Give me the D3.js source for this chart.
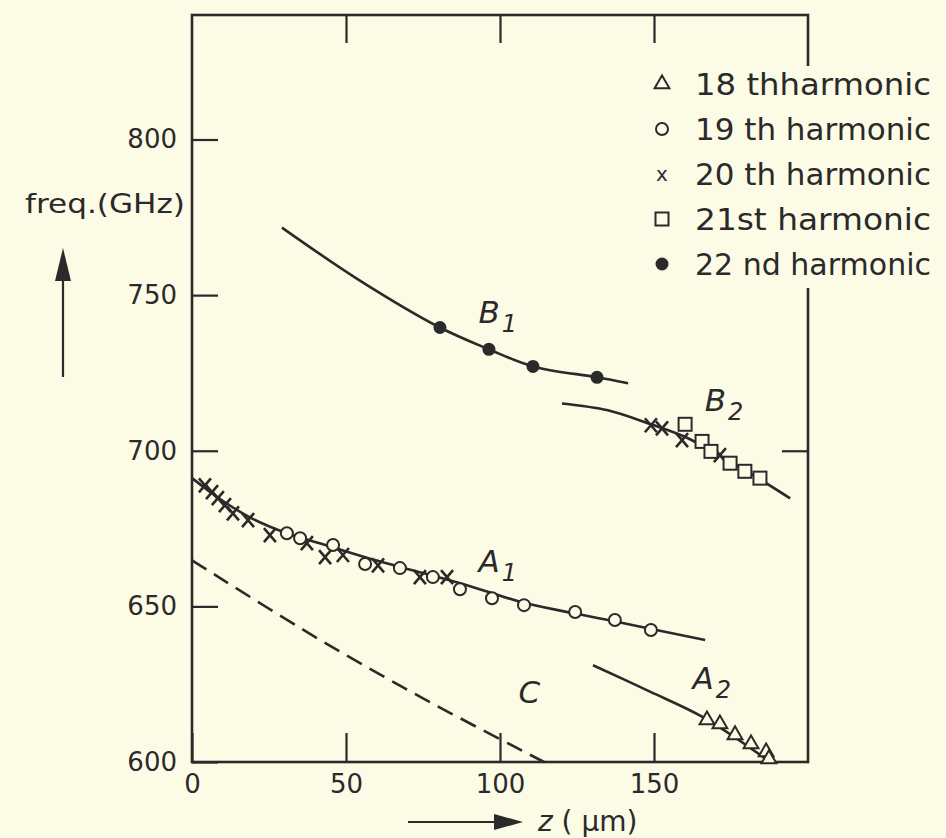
<!DOCTYPE html>
<html>
<head>
<meta charset="utf-8">
<script src="https://cdn.jsdelivr.net/npm/d3@7"></script>
<style>
html, body { margin: 0; padding: 0; background: #fcfbe6; }
svg { display: block; }
text { font-family: "DejaVu Sans", sans-serif; fill: #2a2a2a; }
</style>
</head>
<body>
<div id="chart"></div>
<script>
// axis ticks
const zTicks = [0, 50, 100, 150];
const fTicks = [600, 650, 700, 750, 800];

// curves drawn through the measurements  [z (um), freq (GHz)]
const curveB1 = [[29.2, 771.7], [54, 755.0], [80.5, 739.6], [96.4, 732.6], [110.7, 727.1], [131.5, 723.6], [141.6, 721.7]];
const curveB2 = [[120.1, 715.2], [135, 713.0], [149, 708.5], [160, 704.5], [171.4, 698.4], [184.4, 690.8], [194.2, 684.7]];
const curveA1 = [[0, 691.2], [9.1, 684.5], [18.8, 678.6], [30, 673.8], [45, 669.2], [60, 664.7], [75, 660.7],
                 [90.3, 656.5], [106.5, 651.5], [122.7, 648.0], [139.0, 644.8], [166.6, 639.2]];
const curveA2 = [[130.2, 631.1], [148.7, 622.6], [165.9, 614.4], [187.7, 600]];
const curveC = [[0, 664.8], [41.6, 639.2], [77.9, 618.9], [114.3, 600]];

// measured points per harmonic
const h18 = [[167.2, 613.5], [171.4, 612.2], [176.3, 608.7], [181.5, 605.8], [186.4, 603.2], [187.3, 601]];
const h19 = [[30.8, 673.5], [35.1, 671.9], [45.8, 669.7], [56.2, 663.6], [67.5, 662.3], [78.2, 659.4], [87.0, 655.5],
             [97.4, 652.6], [107.8, 650.4], [124.4, 648.2], [137.3, 645.6], [149.0, 642.4]];
const h20 = [[4.2, 688.9], [6.5, 686.7], [8.4, 684.8], [10.7, 682.5], [13.3, 679.9], [18.2, 677.7], [25.3, 672.9],
             [37.3, 670.3], [43.2, 665.8], [49.0, 666.5], [60.4, 663.2], [74.0, 659.4], [82.8, 659.4],
             [149.0, 708.2], [152.6, 707.2], [159.1, 703.4], [171.4, 698.6]];
const h21 = [[160.1, 708.5], [165.6, 703.0], [168.5, 699.8], [174.7, 696.0], [179.5, 693.4], [184.4, 691.2]];
const h22 = [[80.5, 739.6], [96.4, 732.6], [110.7, 727.1], [131.5, 723.6]];

const legendItems = [
    { label: "18 thharmonic", shape: "tri" },
    { label: "19 th harmonic", shape: "circle" },
    { label: "20 th harmonic", shape: "x" },
    { label: "21st harmonic", shape: "square" },
    { label: "22 nd harmonic", shape: "dot" }
];

const curveLabels = [
    { name: "B", sub: "1", z: 93, f: 741 },
    { name: "B", sub: "2", z: 166.5, f: 712.7 },
    { name: "A", sub: "1", z: 93, f: 661 },
    { name: "A", sub: "2", z: 162.5, f: 623.5 },
    { name: "C", sub: "", z: 106, f: 619 }
];

const W = 946, H = 838;
const bg = "#fcfbe6", ink = "#2a2a2a";
const margin = { top: 15, right: 138, bottom: 76, left: 192 };

const svg = d3.select("#chart").append("svg")
    .attr("width", W)
    .attr("height", H);

const x = d3.scaleLinear().domain([0, 200]).range([margin.left, W - margin.right]);
const y = d3.scaleLinear().domain([600, 840]).range([H - margin.bottom, margin.top]);

// frame
svg.append("rect")
    .attr("x", x(0)).attr("y", y(840))
    .attr("width", x(200) - x(0)).attr("height", y(600) - y(840))
    .attr("fill", "none").attr("stroke", ink).attr("stroke-width", 2.6);

// axes with inward ticks
const axisStyle = g => {
    g.select(".domain").remove();
    g.selectAll(".tick line").attr("stroke", ink).attr("stroke-width", 2.2);
    g.selectAll(".tick text").attr("fill", ink).style("font-size", "26px")
        .style("font-family", "'DejaVu Sans', sans-serif");
};
svg.append("g")
    .attr("transform", `translate(0, ${y(600)})`)
    .call(d3.axisBottom(x).tickValues(zTicks).tickSizeInner(-29).tickSizeOuter(0).tickPadding(13))
    .call(axisStyle);
svg.append("g")
    .attr("transform", `translate(0, ${y(840)})`)
    .call(d3.axisTop(x).tickValues([50, 100, 150]).tickSizeInner(-28).tickSizeOuter(0).tickFormat(""))
    .call(axisStyle);
svg.append("g")
    .attr("transform", `translate(${x(0)}, 0)`)
    .call(d3.axisLeft(y).tickValues(fTicks).tickSizeInner(-26).tickSizeOuter(0).tickPadding(15))
    .call(axisStyle);
svg.append("g")
    .attr("transform", `translate(${x(200)}, 0)`)
    .call(d3.axisRight(y).tickValues([700]).tickSizeInner(-26).tickSizeOuter(0).tickFormat(""))
    .call(axisStyle);

// curves
const line = d3.line()
    .x(d => x(d[0]))
    .y(d => y(d[1]))
    .curve(d3.curveCatmullRom.alpha(0.5));

[curveB1, curveB2, curveA1, curveA2].forEach(c => {
    svg.append("path")
        .attr("d", line(c))
        .attr("fill", "none").attr("stroke", ink).attr("stroke-width", 2.6);
});
svg.append("path")
    .attr("d", line(curveC))
    .attr("fill", "none").attr("stroke", ink).attr("stroke-width", 2.6)
    .attr("stroke-dasharray", "17,9");

// markers
function drawMarker(g, shape, cx, cy) {
    if (shape === "tri") {
        g.append("path").attr("d", d3.symbol(d3.symbolTriangle, 95)())
            .attr("transform", `translate(${cx},${cy})`)
            .attr("fill", bg).attr("stroke", ink).attr("stroke-width", 2);
    } else if (shape === "circle") {
        g.append("circle").attr("cx", cx).attr("cy", cy).attr("r", 6)
            .attr("fill", bg).attr("stroke", ink).attr("stroke-width", 2);
    } else if (shape === "square") {
        g.append("rect").attr("x", cx - 6.5).attr("y", cy - 6.5).attr("width", 13).attr("height", 13)
            .attr("fill", bg).attr("stroke", ink).attr("stroke-width", 2);
    } else if (shape === "dot") {
        g.append("circle").attr("cx", cx).attr("cy", cy).attr("r", 6.5).attr("fill", ink);
    } else if (shape === "x") {
        g.append("path")
            .attr("d", `M${cx - 6},${cy - 7}L${cx + 6},${cy + 7}M${cx + 6},${cy - 7}L${cx - 6},${cy + 7}`)
            .attr("stroke", ink).attr("stroke-width", 2.6).attr("fill", "none");
    }
}

const marks = svg.append("g");
[[h20, "x"], [h19, "circle"], [h21, "square"], [h18, "tri"], [h22, "dot"]].forEach(([data, shape]) => {
    data.forEach(d => drawMarker(marks, shape, x(d[0]), y(d[1])));
});

// curve labels
curveLabels.forEach(l => {
    const t = svg.append("text")
        .attr("x", x(l.z)).attr("y", y(l.f))
        .style("font-size", "31px").style("font-style", "italic");
    t.append("tspan").text(l.name);
    if (l.sub) {
        t.append("tspan").attr("dy", 9).attr("dx", 2).style("font-size", "24px").text(l.sub);
    }
});

// legend (covers the right frame)
const leg = svg.append("g");
leg.append("rect").attr("x", 648).attr("y", 66).attr("width", W - 648).attr("height", 222).attr("fill", bg);
legendItems.forEach((it, i) => {
    const cy = 84 + i * 45;
    if (it.shape === "x") {
        leg.append("text").attr("x", 662).attr("y", cy + 7).attr("text-anchor", "middle")
            .style("font-size", "20px").text("x");
    } else {
        drawMarker(leg, it.shape, 662, cy);
    }
    leg.append("text")
        .attr("x", 695).attr("y", cy + 11)
        .attr("textLength", 236).attr("lengthAdjust", "spacingAndGlyphs")
        .style("font-size", "31px")
        .text(it.label);
});

// axis titles
svg.append("text")
    .attr("x", 25).attr("y", 213)
    .attr("textLength", 160).attr("lengthAdjust", "spacingAndGlyphs")
    .style("font-size", "27px")
    .text("freq.(GHz)");

const arrowG = svg.append("g");
arrowG.append("line").attr("x1", 63).attr("y1", 377).attr("x2", 63).attr("y2", 270)
    .attr("stroke", ink).attr("stroke-width", 2.2);
arrowG.append("path").attr("d", "M63,248L55,281L71,281Z").attr("fill", ink);
arrowG.append("line").attr("x1", 408).attr("y1", 822).attr("x2", 500).attr("y2", 822)
    .attr("stroke", ink).attr("stroke-width", 2.2);
arrowG.append("path").attr("d", "M523,822L494,814L494,830Z").attr("fill", ink);

const zt = svg.append("text").attr("x", 538).attr("y", 831).style("font-size", "28px");
zt.append("tspan").style("font-style", "italic").text("z");
zt.append("tspan").text(" ( μm)");
</script>
</body>
</html>
